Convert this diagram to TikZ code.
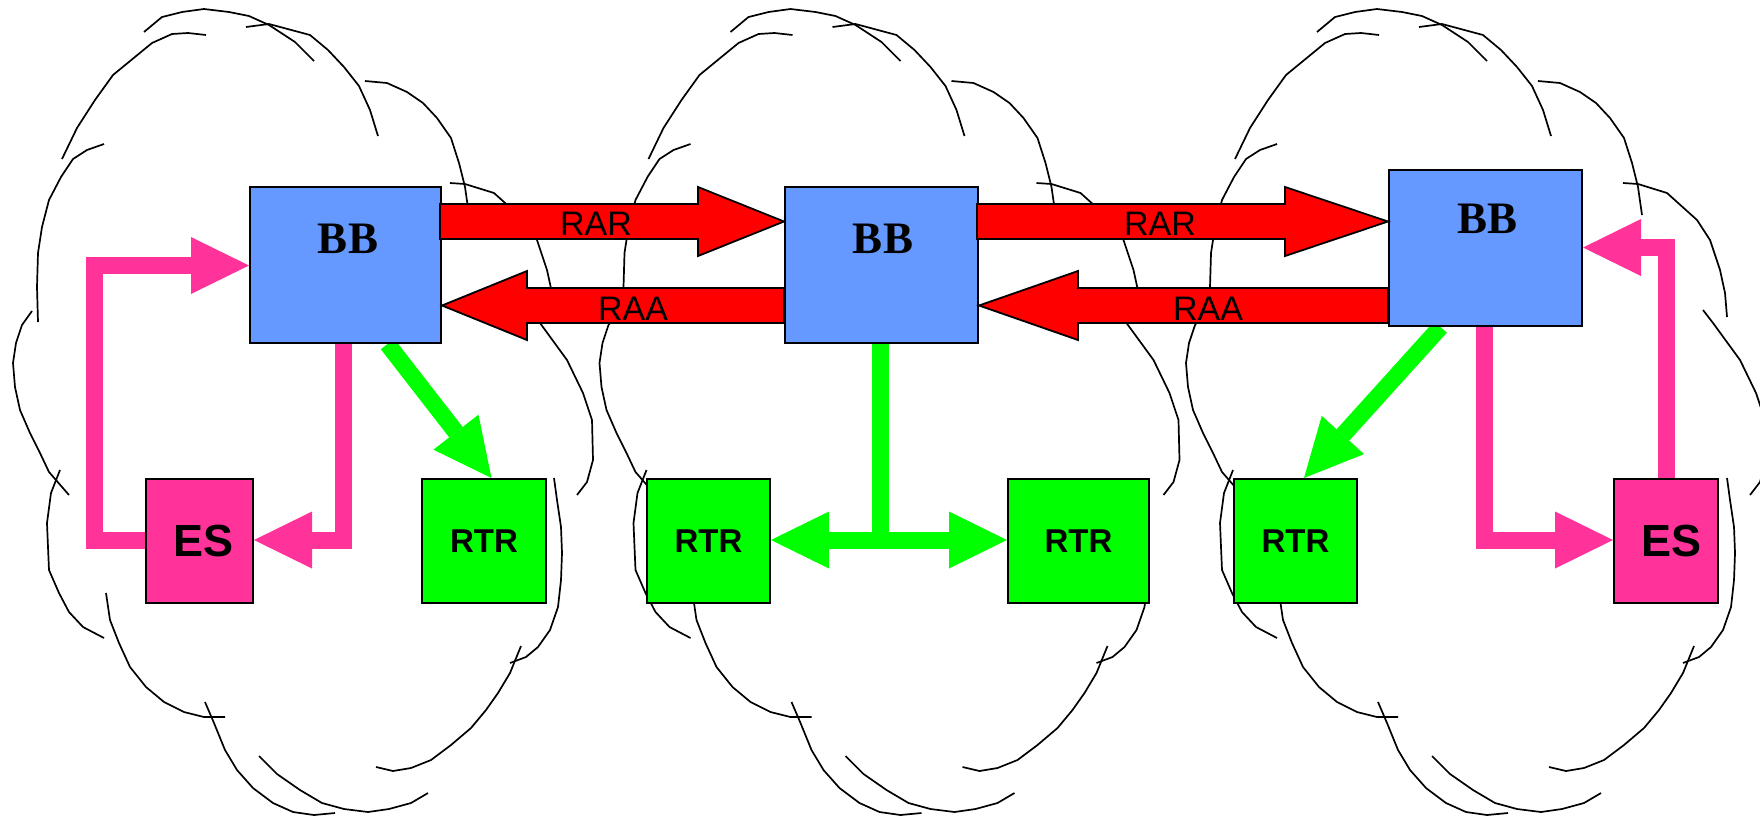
\documentclass[tikz,border=0pt]{standalone}
\usepackage{fontspec}
\setmainfont{Liberation Serif}
\newfontfamily\arialfont{Liberation Sans}
\usetikzlibrary{arrows.meta,calc}

\definecolor{bbblue}{HTML}{6699FF}
\definecolor{espink}{HTML}{FF3399}
\definecolor{rtrgreen}{HTML}{00FF00}
\definecolor{msgred}{HTML}{FF0000}

% horizontal block arrow: #1 tail, #2 tip, #3 head length, #4 direction (+1 right, -1 left)
\newcommand{\blockarrow}[4]{%
  \draw[redblock] ($#1+(0,-17.5)$) -- ($#2+({-#4*#3},-17.5)$) -- ($#2+({-#4*#3},-34.5)$)
    -- #2 -- ($#2+({-#4*#3},34.5)$) -- ($#2+({-#4*#3},17.5)$) -- ($#1+(0,17.5)$) -- cycle;}

\tikzset{
  cloudline/.style={line width=1.7pt, line join=round},
  box/.style={draw=black, line width=2pt, inner sep=0pt, minimum height=124pt},
  bbbox/.style={box, fill=bbblue, minimum height=156pt},
  esbox/.style={box, fill=espink, font=\arialfont\bfseries\fontsize{45}{50}\selectfont},
  rtrbox/.style={box, fill=rtrgreen, font=\arialfont\bfseries\fontsize{33}{38}\selectfont},
  placeholder/.style={draw=none, fill=none},
  bblabel/.style={inner sep=0pt, font=\bfseries\fontsize{45}{50}\selectfont},
  msglabel/.style={inner sep=0pt, font=\arialfont\fontsize{34}{38}\selectfont},
  redblock/.style={draw=black, fill=msgred, line width=1.8pt, line join=miter},
  fathead/.tip={Triangle[length=58pt 0 0, width=57pt 0 0, line width=0pt 0 0]},
  pinkarrow/.style={draw=espink, line width=17pt, line join=miter, -{fathead}},
  greenarrow/.style={draw=rtrgreen, line width=17pt, -{fathead}},
  greenline/.style={draw=rtrgreen, line width=17pt},
  cloud/.pic={
    \draw[cloudline] (144,32)--(162,17)--(182,12)--(204,9)--(229,12)--(249,16)--(269,25)--(295,42)--(314,61);
    \draw[cloudline] (206,35)--(188,33)--(172,34)--(152,43)--(113,75)--(95,100)--(77,128)--(62,159);
    \draw[cloudline] (246,27)--(269,24)--(310,35)--(328,50)--(344,67)--(359,86)--(370,110)--(378,136);
    \draw[cloudline] (365,81)--(387,83)--(407,92)--(423,103)--(437,118)--(451,138)--(459,163)--(465,187)--(469,215);
    \draw[cloudline] (450,183)--(465,184)--(494,193)--(524,220)--(537,240)--(547,270)--(552,293)--(554,317);
    \draw[cloudline] (530,310)--(540,323)--(567,360)--(583,393)--(592,420)--(593,460)--(587,482)--(577,495);
    \draw[cloudline] (104,144)--(87,150)--(73,159)--(61,177)--(49,200)--(42,227)--(38,253)--(37,287)--(38,322);
    \draw[cloudline] (32,311)--(22,325)--(16,343)--(13,363)--(15,387)--(20,410)--(30,433)--(40,453)--(49,472)--(69,495);
    \draw[cloudline] (60,470)--(51,493)--(47,523)--(48,547)--(49,570)--(59,593)--(69,612)--(83,627)--(104,638);
    \draw[cloudline] (106,593)--(110,620)--(119,643)--(130,667)--(146,687)--(164,702)--(184,712)--(204,717)--(225,717);
    \draw[cloudline] (205,702)--(214,723)--(225,750)--(237,770)--(253,788)--(273,803)--(293,812)--(314,815)--(335,813);
    \draw[cloudline] (259,756)--(277,774)--(300,790)--(322,803)--(344,809)--(368,812)--(389,809)--(411,803)--(428,793);
    \draw[cloudline] (376,767)--(393,771)--(411,768)--(431,760)--(451,745)--(471,728)--(486,710)--(498,693)--(510,673)--(521,646);
    \draw[cloudline] (510,663)--(526,657)--(538,647)--(550,630)--(558,607)--(561,580)--(562,553)--(561,527)--(557,500)--(554,478);
  }
}

\begin{document}
\begin{tikzpicture}[x=1pt,y=-1pt]
  \useasboundingbox (0,0) rectangle (1760,815);
  \fill[white] (0,0) rectangle (1760,815);

  % the three network clouds
  \pic at (0,0) {cloud};
  \pic at (586.5,0) {cloud};
  \pic at (1173,0) {cloud};

  % node outlines, used as anchors for the links drawn beneath the boxes
  \path (345.5,265) node[bbbox, placeholder, minimum width=191pt] (bb1) {}
        (881.5,265) node[bbbox, placeholder, minimum width=193pt] (bb2) {}
        (1485.5,248) node[bbbox, placeholder, minimum width=193pt] (bb3) {};
  \path (199.5,541) node[esbox, placeholder, minimum width=107pt] (es1) {}
        (484,541) node[rtrbox, placeholder, minimum width=124pt] (rtr1) {}
        (708.5,541) node[rtrbox, placeholder, minimum width=123pt] (rtr2) {}
        (1078.5,541) node[rtrbox, placeholder, minimum width=141pt] (rtr3) {}
        (1295.5,541) node[rtrbox, placeholder, minimum width=123pt] (rtr4) {}
        (1666,541) node[esbox, placeholder, minimum width=104pt] (es2) {};

  % green and pink links
  \coordinate (es1-turn) at (94.5,540);
  \coordinate (bb1-turn) at (94.5,265.5);
  \draw[pinkarrow] (es1.west |- es1-turn) -- (es1-turn) -- (bb1-turn) -- (bb1.west |- bb1-turn);
  \coordinate (bb1-down) at (343.5,540);
  \draw[pinkarrow] (bb1.south -| bb1-down) -- (bb1-down) -- (es1.east |- bb1-down);
  \draw[greenarrow] (bb1.south -| 387.5,0) -- (rtr1.north -| 491.5,0);

  \coordinate (bb2-fork) at (880.75,540);
  \draw[greenline] (bb2.south -| bb2-fork) -- (bb2-fork);
  \draw[greenarrow] (bb2-fork) -- (rtr2.east |- bb2-fork);
  \draw[greenarrow] (bb2-fork) -- (rtr3.west |- bb2-fork);

  \draw[greenarrow] (bb3.south -| 1440.5,0) -- (rtr4.north -| 1304,0);
  \coordinate (bb3-down) at (1484.4,540);
  \draw[pinkarrow] (bb3.south -| bb3-down) -- (bb3-down) -- (es2.west |- bb3-down);
  \coordinate (es2-up) at (1666,247.5);
  \draw[pinkarrow] (es2.north -| es2-up) -- (es2-up) -- (bb3.east |- es2-up);

  % boxes on top of the links
  \node[bbbox, minimum width=191pt] (bb1) at (345.5,265) {};
  \node[bbbox, minimum width=193pt] (bb2) at (881.5,265) {};
  \node[bbbox, minimum width=193pt] (bb3) at (1485.5,248) {};
  \node[bblabel] (bb1-label) at (348,239) {BB};
  \node[bblabel] (bb2-label) at (883,239) {BB};
  \node[bblabel] (bb3-label) at (1487,219) {BB};
  \node[esbox, minimum width=107pt] (es1) at (199.5,541) {\hspace{8pt}ES};
  \node[rtrbox, minimum width=124pt] (rtr1) at (484,541) {RTR};
  \node[rtrbox, minimum width=123pt] (rtr2) at (708.5,541) {RTR};
  \node[rtrbox, minimum width=141pt] (rtr3) at (1078.5,541) {RTR};
  \node[rtrbox, minimum width=123pt] (rtr4) at (1295.5,541) {RTR};
  \node[esbox, minimum width=104pt] (es2) at (1666,541) {\hspace{10pt}ES};

  % RAR / RAA block arrows between the BB routers
  \coordinate (rar1-tail) at ($(bb1.east |- 0,221.5)+(-2,0)$);
  \coordinate (rar1-tip) at (bb2.west |- 0,221.5);
  \blockarrow{(rar1-tail)}{(rar1-tip)}{86}{1}
  \coordinate (raa1-tail) at (bb2.west |- 0,305.5);
  \coordinate (raa1-tip) at (bb1.east |- 0,305.5);
  \blockarrow{(raa1-tail)}{(raa1-tip)}{85}{-1}
  \coordinate (rar2-tail) at ($(bb2.east |- 0,221.5)+(-2,0)$);
  \coordinate (rar2-tip) at (bb3.west |- 0,221.5);
  \blockarrow{(rar2-tail)}{(rar2-tip)}{103}{1}
  \coordinate (raa2-tail) at (bb3.west |- 0,305.5);
  \coordinate (raa2-tip) at (bb2.east |- 0,305.5);
  \blockarrow{(raa2-tail)}{(raa2-tip)}{99}{-1}

  \node[msglabel] (rar1-label) at (596,224) {RAR};
  \node[msglabel] (raa1-label) at (633,309) {RAA};
  \node[msglabel] (rar2-label) at (1160,224) {RAR};
  \node[msglabel] (raa2-label) at (1208,309) {RAA};
\end{tikzpicture}
\end{document}
